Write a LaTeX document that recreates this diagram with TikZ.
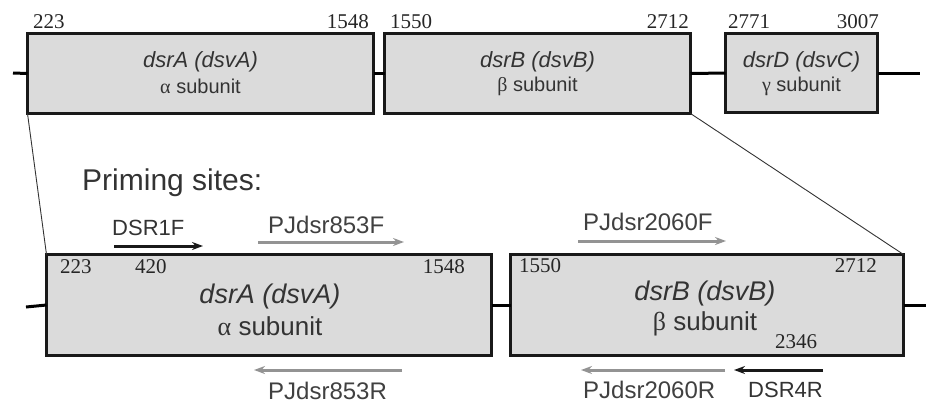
\documentclass[tikz,border=0pt]{standalone}
\usepackage{fontspec}
\setmainfont{Liberation Serif}
\setsansfont{Liberation Sans}
\usetikzlibrary{arrows.meta,shadows}
\begin{document}
\begin{tikzpicture}[x=1pt,y=-1pt,
  genebox/.style={draw=black!90, line width=3pt, fill=gray!28, inner sep=0pt, outer sep=0pt,
     drop shadow={shadow xshift=1.8pt, shadow yshift=-1.8pt, fill=black!50, opacity=1}},
  num/.style={font=\fontsize{21}{23}\selectfont, inner sep=0pt, text=black!85},
  lbl/.style={font=\sffamily\fontsize{22}{25}\selectfont, inner sep=0pt, text=black!80},
  lblpj/.style={font=\sffamily\fontsize{24}{27}\selectfont, inner sep=0pt, text=black!75},
  gnametop/.style={font=\sffamily\itshape\fontsize{22}{25}\selectfont, inner sep=0pt, text=black!80},
  subtop/.style={font=\sffamily\fontsize{20}{24}\selectfont, inner sep=0pt, text=black!80},
  gnamebot/.style={font=\sffamily\itshape\fontsize{27}{30}\selectfont, inner sep=0pt, text=black!80},
  subbot/.style={font=\sffamily\fontsize{26}{30}\selectfont, inner sep=0pt, text=black!80},
  backbone/.style={line width=3pt, draw=black},
  zoomline/.style={line width=0.9pt, draw=black!80},
  blackarrow/.style={line width=3pt, draw=black!90, -{Stealth[length=11pt,width=8pt]}},
  grayarrow/.style={line width=3pt, draw=gray!85, -{Stealth[length=11pt,width=8pt]}}
]
\useasboundingbox (0,0) rectangle (926,405);
\newfontfamily\grk{Liberation Serif}

% top boxes
\node[genebox, minimum width=346pt, minimum height=80pt] (A) at (200.5,73.5) {};
\node[genebox, minimum width=306pt, minimum height=80pt] (B) at (537.5,73.5) {};
\node[genebox, minimum width=152pt, minimum height=79pt] (D) at (801.5,73) {};

% top backbone
\coordinate (tl) at (13,73);
\coordinate (tr) at (920,73);
\draw[backbone] (tl) -- (A.west);
\draw[backbone] (A.east) -- (B.west);
\draw[backbone] (B.east) -- (D.west);
\draw[backbone] (D.east) -- (tr);

% top numbers
\node[num, anchor=base west] (n1) at (33,28) {223};
\node[num, anchor=base east] (n2) at (369,28) {1548};
\node[num, anchor=base west] (n3) at (390,28) {1550};
\node[num, anchor=base east] (n4) at (689,28) {2712};
\node[num, anchor=base west] (n5) at (728,28) {2771};
\node[num, anchor=base east] (n6) at (879,28) {3007};

% top texts
\node[gnametop] (tA1) at (200.5,62) {dsrA (dsvA)};
\node[subtop] (tA2) at (200.5,86) {{\grk α} subunit};
\node[gnametop] (tB1) at (537.5,62) {dsrB (dsvB)};
\node[subtop] (tB2) at (537.5,86) {{\grk β} subunit};
\node[gnametop] (tD1) at (801.5,62) {dsrD (dsvC)};
\node[subtop] (tD2) at (801.5,86) {{\grk γ} subunit};

% priming sites
\node[font=\sffamily\fontsize{30}{34}\selectfont, inner sep=0pt, anchor=base west, text=black!80] (ps) at (82,190) {Priming sites:};

% bottom boxes
\node[genebox, minimum width=445pt, minimum height=101pt] (A2) at (269,305) {};
\node[genebox, minimum width=393pt, minimum height=101pt] (B2) at (707,305) {};

% bottom backbone
\coordinate (bl) at (26,307);
\coordinate (br) at (926,305);
\draw[backbone] (bl) -- (A2.west);
\draw[backbone] (A2.east) -- (B2.west);
\draw[backbone] (B2.east) -- (br);

% zoom lines
\draw[zoomline] (A.south west) -- (A2.north west);
\draw[zoomline] (B.south east) -- (B2.north east);

% bottom numbers
\node[num, anchor=base west] (m1) at (60,273) {223};
\node[num, anchor=base west] (m2) at (135,273) {420};
\node[num, anchor=base east] (m3) at (465,273) {1548};
\node[num, anchor=base west] (m4) at (519,272) {1550};
\node[num, anchor=base east] (m5) at (877,272) {2712};
\node[num, anchor=base west] (m6) at (775,348) {2346};

% bottom texts
\node[gnamebot] (bA1) at (270,297) {dsrA (dsvA)};
\node[subbot] (bA2) at (270,326) {{\grk α} subunit};
\node[gnamebot] (bB1) at (705,294) {dsrB (dsvB)};
\node[subbot] (bB2) at (705,324) {{\grk β} subunit};

% primer labels
\node[lbl, anchor=base west] (p1) at (112,235) {DSR1F};
\node[lblpj, anchor=base west] (p2) at (268,233) {PJdsr853F};
\node[lblpj, anchor=base west] (p3) at (268,399) {PJdsr853R};
\node[lblpj, anchor=base west] (p4) at (583,230) {PJdsr2060F};
\node[lblpj, anchor=base west] (p5) at (583,398) {PJdsr2060R};
\node[lbl, anchor=base west] (p6) at (748,397) {DSR4R};

% primer arrows
\coordinate (a1s) at (114,246); \coordinate (a1e) at (203,246);
\coordinate (a2s) at (258,242); \coordinate (a2e) at (404,242);
\coordinate (a3s) at (402,370); \coordinate (a3e) at (254,370);
\coordinate (a4s) at (578,241); \coordinate (a4e) at (726,241);
\coordinate (a5s) at (725,370); \coordinate (a5e) at (581,370);
\coordinate (a6s) at (823,370); \coordinate (a6e) at (734,370);
\draw[blackarrow] (a1s) -- (a1e);
\draw[grayarrow] (a2s) -- (a2e);
\draw[grayarrow] (a3s) -- (a3e);
\draw[grayarrow] (a4s) -- (a4e);
\draw[grayarrow] (a5s) -- (a5e);
\draw[blackarrow] (a6s) -- (a6e);
\end{tikzpicture}
\end{document}
